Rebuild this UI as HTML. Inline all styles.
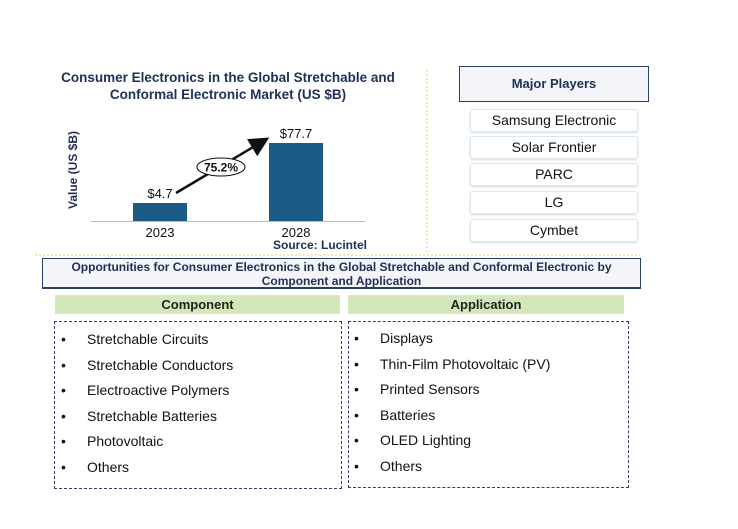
<!DOCTYPE html>
<html><head><meta charset="utf-8"><style>
body{margin:0;width:738px;height:529px;background:#fff;font-family:"Liberation Sans",Arial,sans-serif;position:relative;overflow:hidden}
.a{position:absolute}
.pl{position:absolute;left:470px;width:166px;height:21px;border:1px solid #dde6ee;border-radius:3px;box-shadow:0 1px 2px #cfdbe6;font-size:14px;color:#111;text-align:center;line-height:21px}
.hdr{position:absolute;top:295px;height:19px;background:#d3e7b9;font-size:13px;font-weight:bold;color:#222;text-align:center;line-height:19px}
.box{position:absolute;top:321px;border:1px dashed #2c3e63;}
.it{position:absolute;font-size:14px;color:#111;line-height:25.6px}
.it div{position:relative;padding-left:26px}
.it div:before{content:"•";position:absolute;left:0}
</style></head><body>
<div class="a" style="left:40px;top:69px;width:376px;text-align:center;font-weight:bold;font-size:13.5px;color:#1f2f56;line-height:17px">Consumer Electronics in the Global Stretchable and<br>Conformal Electronic Market (US $B)</div>
<svg class="a" style="left:0;top:0" width="738" height="529">
<line x1="427" y1="70" x2="427" y2="255" stroke="#e8cf6a" stroke-dasharray="2,2"/>
<line x1="35" y1="255" x2="640" y2="255" stroke="#e8cf6a" stroke-dasharray="2,2"/>
<text x="77" y="170" transform="rotate(-90 77 170)" text-anchor="middle" font-size="12" font-weight="bold" fill="#1f2f56">Value (US $B)</text>
<line x1="91" y1="221.5" x2="365" y2="221.5" stroke="#bbb"/>
<g id="bars"></g>
<defs><marker id="ah" markerWidth="8" markerHeight="8" refX="6" refY="4" orient="auto"><path d="M0,0L8,4L0,8z" fill="#111"/></marker></defs>
<line x1="176" y1="193" x2="265" y2="140" stroke="#111" stroke-width="2.5" marker-end="url(#ah)"/>
<ellipse cx="221" cy="167" rx="24" ry="9" fill="#fff" stroke="#111"/>
<text x="221" y="171.5" text-anchor="middle" font-size="12" font-weight="bold" fill="#111">75.2%</text>
<text x="367" y="249" text-anchor="end" font-size="12" font-weight="bold" fill="#1f2f56">Source: Lucintel</text>
</svg>
<script>
const categories=["2023","2028"];
const values=[4.7,77.7];
const valueLabels=["$4.7","$77.7"];
const baseY=221, yMin=-17.2, yMax=77.7, topY=143;
function yScale(v){return baseY-(v-yMin)/(yMax-yMin)*(baseY-topY);}
function xScale(i){return 133+i*136;}
const g=document.getElementById('bars');const ns="http://www.w3.org/2000/svg";
categories.forEach((c,i)=>{
 const r=document.createElementNS(ns,'rect');
 const yy=yScale(values[i]);
 const h=baseY-yy;
 r.setAttribute('x',xScale(i));r.setAttribute('y',yy);r.setAttribute('width',54);r.setAttribute('height',h);r.setAttribute('fill','#1d5b87');
 
 
 g.appendChild(r);
 const t=document.createElementNS(ns,'text');
 t.setAttribute('x',xScale(i)+27);t.setAttribute('y',yy-5);t.setAttribute('text-anchor','middle');t.setAttribute('font-size','13');t.setAttribute('fill','#111');
 t.textContent=valueLabels[i];
 
 
 g.appendChild(t);
 const l=document.createElementNS(ns,'text');
 l.setAttribute('x',xScale(i)+27);l.setAttribute('y',237);l.setAttribute('text-anchor','middle');l.setAttribute('font-size','13');l.setAttribute('fill','#111');
 l.textContent=c;
 
 
 g.appendChild(l);
});
</script>
<div class="a" style="left:459px;top:66px;width:188px;height:34px;border:1px solid #2c3e63;background:#f3f5f9;text-align:center;line-height:34px;font-size:13px;font-weight:bold;color:#1f2f56">Major Players</div>
<div class="pl" style="top:109px">Samsung Electronic</div>
<div class="pl" style="top:136px">Solar Frontier</div>
<div class="pl" style="top:163px">PARC</div>
<div class="pl" style="top:191px">LG</div>
<div class="pl" style="top:219px">Cymbet</div>
<div class="a" style="left:42px;top:258px;width:597px;height:27px;padding-top:1px;border:1px solid #2c3e63;border-bottom-width:2px;background:#f3f5f9;text-align:center;font-size:12px;font-weight:bold;color:#1f2f56;line-height:14px">Opportunities for Consumer Electronics in the Global Stretchable and Conformal Electronic by<br>Component and Application</div>
<div class="hdr" style="left:55px;width:285px">Component</div>
<div class="hdr" style="left:348px;width:276px">Application</div>
<div class="box" style="left:54px;width:286px;height:166px"></div>
<div class="box" style="left:348px;width:279px;height:165px"></div>
<div class="it" style="left:61px;top:327px">
<div>Stretchable Circuits</div><div>Stretchable Conductors</div><div>Electroactive Polymers</div><div>Stretchable Batteries</div><div>Photovoltaic</div><div>Others</div></div>
<div class="it" style="left:354px;top:326px">
<div>Displays</div><div>Thin-Film Photovoltaic (PV)</div><div>Printed Sensors</div><div>Batteries</div><div>OLED Lighting</div><div>Others</div></div>
</body></html>
